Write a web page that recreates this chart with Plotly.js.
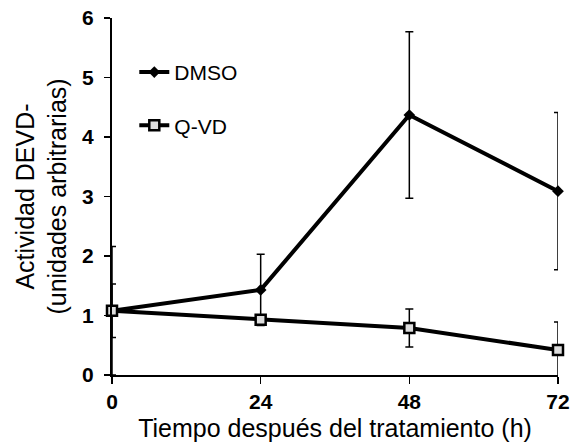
<!DOCTYPE html>
<html>
<head>
<meta charset="utf-8">
<script src="https://cdn.plot.ly/plotly-3.0.1.min.js"></script>
<style>html,body{margin:0;padding:0;background:#fff;}#chart{width:570px;height:448px;}</style>
</head>
<body>
<div id="chart"></div>
<script>
var hours = [0, 24, 48, 72];
var tickLabels = ["0", "24", "48", "72"];
var dmsoValues = [1.08, 1.43, 4.37, 3.09];
var dmsoErrors = [1.08, 0.60, 1.40, 1.32];
var qvdValues = [1.08, 0.93, 0.79, 0.42];
var qvdErrors = [0.45, 0.07, 0.32, 0.47];

var dmso = {
  x: hours, y: dmsoValues, name: "DMSO", type: "scatter", mode: "lines+markers",
  legendgroup: "a",
  line: {color: "#000", width: 4},
  marker: {symbol: "diamond", size: 9, color: "#000"},
  error_y: {type: "data", array: dmsoErrors, visible: true, color: "#000", thickness: 1.5, width: 4},
  cliponaxis: false
};
var qvd = {
  x: hours, y: qvdValues, name: "Q-VD", type: "scatter", mode: "lines+markers",
  legendgroup: "b",
  line: {color: "#000", width: 4},
  marker: {symbol: "square", size: 10, color: "#ddd", line: {color: "#000", width: 2.5}},
  error_y: {type: "data", array: qvdErrors, visible: true, color: "#000", thickness: 1.5, width: 4},
  cliponaxis: false
};

var layout = {
  width: 570, height: 448,
  margin: {l: 112, r: 12, t: 18, b: 73},
  paper_bgcolor: "#fff", plot_bgcolor: "#fff",
  font: {family: "Liberation Sans, Arial, sans-serif", color: "#000"},
  showlegend: true,
  legend: {
    x: 0.05, y: 0.905, xanchor: "left", yanchor: "top",
    bgcolor: "rgba(0,0,0,0)", traceorder: "grouped", tracegroupgap: 23,
    font: {size: 21, color: "#000"}
  },
  xaxis: {
    range: [0, 72], tickvals: hours, ticktext: tickLabels,
    showgrid: false, zeroline: false, showline: true, linecolor: "#000", linewidth: 1.5,
    ticks: "outside", ticklen: 7, tickwidth: 1.5, tickcolor: "#000",
    tickfont: {size: 21, family: "Liberation Sans, Arial, sans-serif", weight: "bold"},
    title: {text: "Tiempo después del tratamiento (h)", font: {size: 25}, standoff: 8}
  },
  yaxis: {
    range: [0, 6], tickvals: [0, 1, 2, 3, 4, 5, 6],
    showgrid: false, zeroline: false, showline: true, linecolor: "#000", linewidth: 2,
    ticks: "outside", ticklen: 6, tickwidth: 1.5, tickcolor: "#000",
    ticklabelstandoff: 6,
    tickfont: {size: 21, family: "Liberation Sans, Arial, sans-serif", weight: "bold"},
    title: {text: "Actividad DEVD-<br>(unidades arbitrarias)", font: {size: 25}, standoff: 8}
  }
};

Plotly.newPlot("chart", [dmso, qvd], layout, {displayModeBar: false, staticPlot: true});
</script>
</body>
</html>
